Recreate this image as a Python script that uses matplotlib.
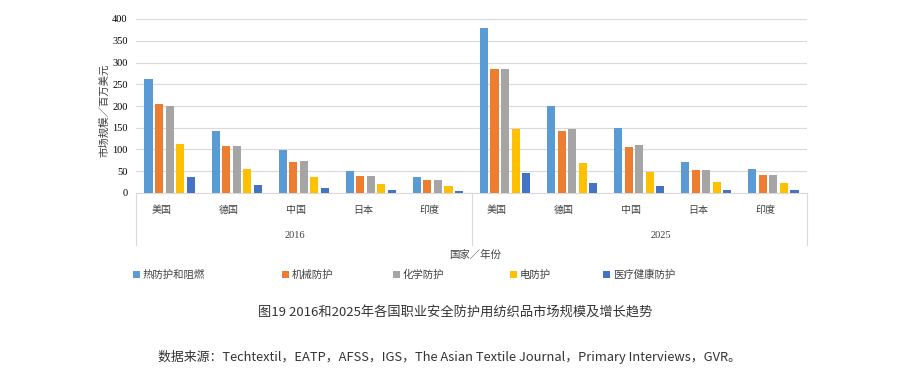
import numpy as np
import matplotlib
matplotlib.use("Agg")
import matplotlib.pyplot as plt
from matplotlib.patches import Rectangle

plt.rcParams['font.family'] = ['Noto Sans CJK SC', 'DejaVu Sans']

# 数据
countries = ['美国', '德国', '中国', '日本', '印度']
years = ['2016', '2025']
series = ['热防护和阻燃', '机械防护', '化学防护', '电防护', '医疗健康防护']
colors = ['#5B9BD5', '#ED7D31', '#A5A5A5', '#FFC000', '#4472C4']

heat_2016 = [262, 142, 99, 51, 37]
mech_2016 = [205, 107, 72, 39, 30]
chem_2016 = [200, 107, 74, 39, 29]
elec_2016 = [112, 55, 37, 21, 17]
med_2016 = [36, 18, 12, 7, 5]

heat_2025 = [379, 199, 150, 72, 55]
mech_2025 = [284, 143, 105, 53, 42]
chem_2025 = [284, 148, 110, 54, 42]
elec_2025 = [147, 70, 49, 26, 22]
med_2025 = [47, 22, 15, 8, 7]

values = [heat_2016 + heat_2025, mech_2016 + mech_2025, chem_2016 + chem_2025,
          elec_2016 + elec_2025, med_2016 + med_2025]

W, H = 904, 382
fig = plt.figure(figsize=(W / 100, H / 100), dpi=100)
ax = fig.add_axes([136 / W, 1 - 193 / H, (807 - 136) / W, (193 - 19) / H])

x = np.arange(len(countries) * len(years))
step = 0.157
bw = 0.12
for i, (name, vals) in enumerate(zip(series, values)):
    ax.bar(x + (i - 2) * step, vals, bw, color=colors[i], zorder=3)

ax.set_xlim(-0.5, len(x) - 0.5)
ax.set_ylim(0, 400)
ax.set_yticks(range(0, 401, 50))
ax.set_yticklabels([str(v) for v in range(0, 401, 50)], family='Liberation Serif', fontsize=7.5)
ax.tick_params(axis='y', length=0, pad=6)
ax.set_xticks([])
ax.grid(axis='y', color='#d9d9d9', linewidth=0.8, zorder=0)
for s in ['left', 'right', 'top']:
    ax.spines[s].set_visible(False)
ax.spines['bottom'].set_color('#d9d9d9')

# 多级分类轴
sep_bottom = -(245 - 193) / (193 - 19) * 400
for xs in [-0.5, 4.5, 9.5]:
    ax.plot([xs, xs], [0, sep_bottom], color='#d9d9d9', lw=0.8, clip_on=False)
lab_y = -(210 - 193) / (193 - 19) * 400
for k in range(len(x)):
    ax.text(x[k] - 0.12, lab_y, countries[k % 5], ha='center', va='center', fontsize=7.2, color='#404040')
yr_y = -(236 - 193) / (193 - 19) * 400
ax.text(1.87, yr_y, years[0], ha='center', va='center', fontsize=7.5, family='Liberation Serif', color='#404040')
ax.text(7.32, yr_y, years[1], ha='center', va='center', fontsize=7.5, family='Liberation Serif', color='#404040')

fig.text(475 / W, 1 - 255 / H, '国家／年份', ha='center', va='center', fontsize=7.5, color='#404040')
fig.text(104 / W, 1 - 110 / H, '市场规模／百万美元', ha='center', va='center', rotation=90, fontsize=7.5, color='#404040')

# 图例
leg_x = [133, 282, 393, 510, 603]
for lx, name, c in zip(leg_x, series, colors):
    fig.patches.append(Rectangle((lx / W, 1 - 278 / H), 7 / W, 7 / H, transform=fig.transFigure,
                                 facecolor=c, edgecolor='none'))
    fig.text((lx + 10) / W, 1 - 275 / H, name, ha='left', va='center', fontsize=7.5, color='#404040')

fig.text(455 / W, 1 - 313 / H, '图19 2016和2025年各国职业安全防护用纺织品市场规模及增长趋势',
         ha='center', va='center', fontsize=9.5, color='#333333')
fig.text(158 / W, 1 - 357 / H,
         '数据来源：Techtextil，EATP，AFSS，IGS，The Asian Textile Journal，Primary Interviews，GVR。',
         ha='left', va='center', fontsize=9.3, color='#333333')

fig.savefig('out.png', dpi=100)
